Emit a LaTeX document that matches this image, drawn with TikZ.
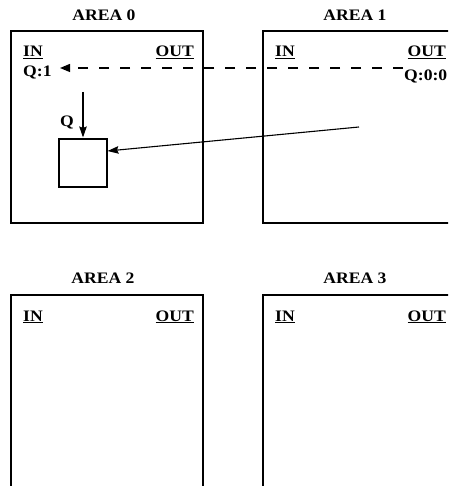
\documentclass[tikz,border=0pt]{standalone}
\usepackage{fontspec}
\setmainfont{Liberation Serif}[FakeStretch=1.1]
\usetikzlibrary{arrows.meta}
\begin{document}
\begin{tikzpicture}[x=1pt,y=-1pt,
  areabox/.style={draw,line width=1.4pt,minimum width=192pt,minimum height=192pt,inner sep=0pt},
  smallbox/.style={draw,line width=1.1pt,minimum width=48pt,minimum height=48pt,inner sep=0pt},
  lbl/.style={font=\fontsize{16}{18}\selectfont\bfseries,inner sep=0pt},
  conn/.style={line width=1.1pt,-{Stealth[length=11pt,width=7.5pt,inset=1.5pt]}},
  dconn/.style={line width=1.2pt,dash pattern=on 10pt off 11pt,-{Triangle[length=10pt,width=8pt]}}]
\useasboundingbox (0,0) rectangle (448,486);
\clip (0,0) rectangle (448,486);
% boxes
\node[areabox] (box0) at (107,127) {};
\node[areabox] (box1) at (359,127) {};
\node[areabox] (box2) at (107,391) {};
\node[areabox] (box3) at (359,391) {};
% titles
\node[lbl] (t0) at (104,15) {AREA 0};
\node[lbl] (t1) at (355,15) {AREA 1};
\node[lbl] (t2) at (103,278) {AREA 2};
\node[lbl] (t3) at (355,278) {AREA 3};
% IN / OUT
\node[lbl,anchor=base west] (in0) at (23,57) {\underline{IN}};
\node[lbl,anchor=base east] (out0) at (194,57) {\underline{OUT}};
\node[lbl,anchor=base west] (in1) at (275,57) {\underline{IN}};
\node[lbl,anchor=base east] (out1) at (446,57) {\underline{OUT}};
\node[lbl,anchor=base west] (in2) at (23,321) {\underline{IN}};
\node[lbl,anchor=base east] (out2) at (194,321) {\underline{OUT}};
\node[lbl,anchor=base west] (in3) at (275,321) {\underline{IN}};
\node[lbl,anchor=base east] (out3) at (446,321) {\underline{OUT}};
% Q labels
\node[lbl,anchor=base west] (q1) at (23,77) {Q:1};
\node[lbl,anchor=base west] (q00) at (404,81) {Q:0:0};
\node[lbl,anchor=base west] (q) at (60,127) {Q};
% small box
\node[smallbox] (small) at (83,163) {};
% connectors
\coordinate (dstart) at (403,68);
\coordinate (dend) at (60,68);
\draw[dconn] (dstart) -- (dend);
\coordinate (qtop) at (83,92);
\draw[conn] (qtop) -- ([yshift=1pt]small.north);
\coordinate (lstart) at (359,127);
\draw[conn] (lstart) -- ([yshift=12pt]small.east);
\end{tikzpicture}
\end{document}
